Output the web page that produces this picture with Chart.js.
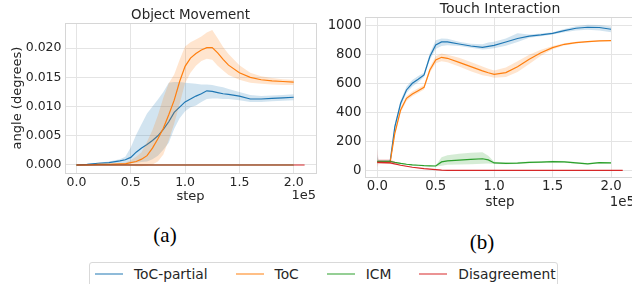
<!DOCTYPE html>
<html>
<head>
<meta charset="utf-8">
<script src="https://cdn.jsdelivr.net/npm/chart.js@4.4.0/dist/chart.umd.min.js"></script>
<style>
  html, body { margin: 0; padding: 0; background: #fff; }
  body { width: 632px; height: 284px; position: relative; overflow: hidden; font-family: "DejaVu Sans", sans-serif; }
  #chartA { position: absolute; left: 0; top: 0; }
  #chartB { position: absolute; left: 320px; top: 0; }
  .caption { position: absolute; font-family: "Liberation Serif", serif; font-size: 21px; color: #000; transform: translate(-50%, -50%); line-height: 1; }
  #legend { position: absolute; left: 89px; top: 262px; width: 469px; height: 40px; border: 1px solid #d9d9d9; border-radius: 3px; box-sizing: border-box; }
  #legend .row { display: flex; align-items: center; height: 16px; margin-top: 3px; padding-left: 5px; white-space: nowrap; }
  #legend .item { display: flex; align-items: center; flex-shrink: 0; margin-right: 28px; font-size: 13.8px; color: #262626; white-space: nowrap; }
  #legend .swatch { width: 28px; height: 2px; margin-right: 11px; flex-shrink: 0; }
</style>
</head>
<body>
<canvas id="chartA" width="320" height="215"></canvas>
<canvas id="chartB" width="320" height="215"></canvas>
<div class="caption" style="left:165px; top:235px;">(a)</div>
<div class="caption" style="left:482px; top:242px;">(b)</div>
<div id="legend"><div class="row" id="legendRow"></div></div>
<script>
// series names + colours (tab10)
const seriesNames = ['ToC-partial', 'ToC', 'ICM', 'Disagreement'];
const seriesColors = ['#1f77b4', '#ff7f0e', '#2ca02c', '#d62728'];
const bandColors = ['rgba(31,119,180,0.2)', 'rgba(255,127,14,0.2)', 'rgba(44,160,44,0.2)', 'rgba(214,39,40,0.2)'];
const legendColors = ['#8fbbd9', '#ffbf86', '#95cf95', '#eb9394'];

// x ticks, in units of 1e5 steps
const stepTicks = [0, 0.5, 1.0, 1.5, 2.0];

// (a) Object Movement
const omTicks = [0, 0.005, 0.010, 0.015, 0.020];
const omSteps = [0, 0.1, 0.2, 0.3, 0.4, 0.45, 0.5, 0.55, 0.6, 0.65, 0.7, 0.75, 0.8, 0.85, 0.9, 0.95, 1.0, 1.05, 1.1, 1.15, 1.2, 1.25, 1.3, 1.35, 1.4, 1.5, 1.6, 1.7, 1.8, 1.9, 2.0];
const omPartial   = [0, 0.0001, 0.0003, 0.0004, 0.0007, 0.0009, 0.0013, 0.0022, 0.0029, 0.0035, 0.0042, 0.0050, 0.0061, 0.0074, 0.0090, 0.0099, 0.0108, 0.0113, 0.0118, 0.0122, 0.0127, 0.0126, 0.0124, 0.0122, 0.0121, 0.0118, 0.0113, 0.0113, 0.0114, 0.0115, 0.0116];
const omPartialLo = [0, 0, 0.0001, 0.0002, 0.0002, 0.0003, 0.0003, 0.0004, 0.0005, 0.0006, 0.0010, 0.0016, 0.0026, 0.0038, 0.0062, 0.0080, 0.0092, 0.0099, 0.0102, 0.0108, 0.0113, 0.0114, 0.0114, 0.0113, 0.0113, 0.0111, 0.0108, 0.0108, 0.0109, 0.0110, 0.0111];
const omPartialHi = [0, 0.0002, 0.0004, 0.0006, 0.0010, 0.0014, 0.0030, 0.0052, 0.0070, 0.0088, 0.0100, 0.0112, 0.0125, 0.0141, 0.0142, 0.0142, 0.0141, 0.0140, 0.0139, 0.0138, 0.0138, 0.0137, 0.0135, 0.0133, 0.0130, 0.0125, 0.0120, 0.0118, 0.0119, 0.0120, 0.0121];
const omToc   = [0, 0, 0.0001, 0.0001, 0.0002, 0.0002, 0.0004, 0.0006, 0.0010, 0.0016, 0.0029, 0.0045, 0.0063, 0.0086, 0.0111, 0.0143, 0.0169, 0.0183, 0.0191, 0.0197, 0.0201, 0.0201, 0.0192, 0.0181, 0.0171, 0.0158, 0.0150, 0.0146, 0.0144, 0.0143, 0.0142];
const omTocLo = [0, 0, 0, 0, 0, 0, -0.0001, -0.0002, -0.0002, -0.0001, 0.0001, 0.0006, 0.0018, 0.0043, 0.0071, 0.0105, 0.0140, 0.0158, 0.0170, 0.0178, 0.0182, 0.0180, 0.0170, 0.0162, 0.0154, 0.0146, 0.0141, 0.0139, 0.0138, 0.0137, 0.0137];
const omTocHi = [0, 0.0001, 0.0002, 0.0002, 0.0003, 0.0004, 0.0008, 0.0014, 0.0022, 0.0040, 0.0060, 0.0085, 0.0115, 0.0140, 0.0155, 0.0180, 0.0203, 0.0210, 0.0215, 0.0220, 0.0227, 0.0231, 0.0217, 0.0202, 0.0190, 0.0171, 0.0158, 0.0152, 0.0149, 0.0147, 0.0146];
const omIcmSteps = [0, 0.5, 1.0, 1.5, 2.0];
const omIcm = [0, 0, 0, 0, 0];
const omDisSteps = [0, 0.5, 1.0, 1.5, 2.1];
const omDis = [0, 0, 0, 0, 0];

// (b) Touch Interaction
const tiTicks = [0, 200, 400, 600, 800, 1000];
const tiSteps = [0, 0.01, 0.11, 0.15, 0.2, 0.25, 0.3, 0.35, 0.4, 0.45, 0.5, 0.55, 0.6, 0.7, 0.8, 0.9, 0.95, 1.0, 1.1, 1.2, 1.3, 1.4, 1.5, 1.6, 1.7, 1.8, 1.9, 2.0];
const tiPartial   = [60, 60, 60, 300, 464, 556, 602, 630, 660, 787, 867, 888, 888, 874, 860, 850, 858, 865, 888, 912, 928, 937, 948, 967, 983, 990, 988, 976];
const tiPartialLo = [40, 50, 50, 280, 440, 535, 580, 610, 645, 765, 840, 860, 865, 860, 848, 836, 840, 845, 862, 888, 918, 928, 940, 956, 968, 972, 968, 955];
const tiPartialHi = [110, 72, 72, 320, 485, 580, 625, 652, 675, 810, 900, 912, 910, 890, 875, 872, 885, 890, 912, 948, 940, 946, 956, 978, 996, 1008, 1006, 995];
const tiToc   = [55, 55, 55, 256, 418, 498, 528, 551, 574, 694, 764, 782, 775, 747, 717, 688, 675, 664, 676, 717, 768, 814, 849, 872, 884, 890, 895, 897];
const tiTocLo = [45, 47, 47, 240, 400, 480, 512, 535, 560, 675, 740, 755, 748, 718, 685, 658, 650, 640, 645, 680, 735, 792, 838, 864, 878, 885, 891, 894];
const tiTocHi = [70, 65, 65, 272, 435, 515, 545, 568, 590, 715, 790, 808, 800, 778, 750, 718, 702, 690, 712, 755, 800, 835, 860, 880, 890, 895, 899, 900];
const tiIcm   = [62, 62, 62, 55, 48, 42, 37, 35, 32, 31, 30, 58, 65, 71, 76, 80, 72, 51, 48, 50, 55, 57, 60, 58, 51, 44, 53, 51];
const tiIcmLo = [40, 55, 55, 50, 44, 38, 34, 32, 29, 28, 27, 32, 38, 40, 42, 45, 48, 43, 42, 44, 49, 51, 54, 52, 46, 40, 48, 46];
const tiIcmHi = [90, 70, 68, 60, 52, 46, 40, 38, 35, 34, 33, 90, 105, 115, 122, 125, 100, 60, 55, 57, 61, 63, 66, 64, 57, 50, 58, 56];
const tiDisSteps = [0, 0.01, 0.11, 0.2, 0.3, 0.4, 0.5, 0.55, 0.6, 1.0, 1.5, 2.0, 2.1];
const tiDis   = [55, 55, 52, 35, 21, 12, 5, 1, 0, 0, 0, 0, 0];
const tiDisLo = [20, 43, 43, 33, 19, 10, 4, 0, 0, 0, 0, 0, 0];
const tiDisHi = [150, 76, 76, 37, 23, 14, 6, 2, 0, 0, 0, 0, 0];

const textColor = '#262626';
const gridColor = '#e4e4e4';

function pts(xs, ys) {
  return xs.map((x, i) => ({x: x, y: ys[i]}));
}

// band (hi filled down to lo) + mean line; k = series index
function series(k, xs, mean, lo, hi) {
  const order = 4 - k;
  const out = [];
  if (lo) {
    out.push({data: pts(xs, hi), borderWidth: 0, pointRadius: 0, fill: '+1', backgroundColor: bandColors[k], order: order});
    out.push({data: pts(xs, lo), borderWidth: 0, pointRadius: 0, fill: false, order: order});
  }
  out.push({data: pts(xs, mean), borderColor: seriesColors[k], borderWidth: 1.2, pointRadius: 0, fill: false, order: order});
  return out;
}

const framePlugin = {
  id: 'frame',
  afterDraw(chart, args, o) {
    const {ctx, chartArea: a} = chart;
    ctx.save();
    ctx.strokeStyle = '#d6d6d6';
    ctx.lineWidth = 1;
    ctx.strokeRect(Math.round(a.left) + 0.5, Math.round(a.top) + 0.5, Math.round(a.right - a.left), Math.round(a.bottom - a.top));
    ctx.fillStyle = textColor;
    ctx.font = o.size + 'px "DejaVu Sans"';
    ctx.textAlign = 'right';
    ctx.textBaseline = 'middle';
    ctx.fillText('1e5', a.right, o.y);
    ctx.restore();
  }
};

function makeChart(id, cfg) {
  return new Chart(document.getElementById(id), {
    type: 'line',
    data: {datasets: cfg.datasets},
    plugins: [framePlugin],
    options: {
      responsive: false,
      animation: false,
      layout: {padding: {left: 0, right: cfg.padRight, top: 0, bottom: 0}},
      plugins: {
        legend: {display: false},
        tooltip: {enabled: false},
        title: {display: true, text: cfg.title, color: textColor, fullSize: false,
          font: {family: 'DejaVu Sans', size: cfg.titleSize, weight: 'normal'},
          padding: {top: cfg.titlePad, bottom: 0}},
        frame: {size: cfg.labelSize, y: cfg.offsetY}
      },
      scales: {
        x: {
          type: 'linear', min: -0.105, max: 2.205,
          afterBuildTicks: s => { s.ticks = stepTicks.map(v => ({value: v})); },
          afterFit: s => { s.height = cfg.xHeight; },
          grid: {color: gridColor, drawTicks: false},
          border: {display: false},
          ticks: {color: textColor, padding: cfg.xTickPad, font: {family: 'DejaVu Sans', size: cfg.tickSize},
            callback: v => v.toFixed(1)},
          title: {display: true, text: 'step', color: textColor, padding: {top: 0, bottom: cfg.xTitlePad},
            font: {family: 'DejaVu Sans', size: cfg.labelSize}}
        },
        y: {
          min: cfg.yMin, max: cfg.yMax,
          afterBuildTicks: s => { s.ticks = cfg.yTicks.map(v => ({value: v})); },
          afterFit: s => { s.width = cfg.yWidth; },
          grid: {color: gridColor, drawTicks: false},
          border: {display: false},
          ticks: {color: textColor, padding: 3.5, font: {family: 'DejaVu Sans', size: cfg.tickSize},
            callback: cfg.yFormat},
          title: {display: !!cfg.yTitle, text: cfg.yTitle, color: textColor, padding: {top: 10, bottom: 0},
            font: {family: 'DejaVu Sans', size: cfg.labelSize}}
        }
      }
    }
  });
}

makeChart('chartA', {
  title: 'Object Movement', titleSize: 13.4, titlePad: 7,
  tickSize: 12.5, labelSize: 13, padRight: 4,
  xHeight: 42, xTickPad: 2, xTitlePad: 11, offsetY: 196,
  yWidth: 65, yMin: -0.00137, yMax: 0.0243, yTicks: omTicks,
  yFormat: v => v.toFixed(3), yTitle: 'angle (degrees)',
  datasets: [].concat(
    series(0, omSteps, omPartial, omPartialLo, omPartialHi),
    series(1, omSteps, omToc, omTocLo, omTocHi),
    series(2, omIcmSteps, omIcm),
    series(3, omDisSteps, omDis)
  )
});

makeChart('chartB', {
  title: 'Touch Interaction', titleSize: 14, titlePad: 0.6,
  tickSize: 13.3, labelSize: 13.4, padRight: 5,
  xHeight: 37.4, xTickPad: 1, xTitlePad: 4, offsetY: 203,
  yWidth: 45, yMin: -50.4, yMax: 1058, yTicks: tiTicks,
  yFormat: v => String(v), yTitle: '',
  datasets: [].concat(
    series(0, tiSteps, tiPartial, tiPartialLo, tiPartialHi),
    series(1, tiSteps, tiToc, tiTocLo, tiTocHi),
    series(2, tiSteps, tiIcm, tiIcmLo, tiIcmHi),
    series(3, tiDisSteps, tiDis, tiDisLo, tiDisHi)
  )
});

// legend
const row = document.getElementById('legendRow');
seriesNames.forEach((name, k) => {
  const item = document.createElement('div');
  item.className = 'item';
  const sw = document.createElement('span');
  sw.className = 'swatch';
  sw.style.background = legendColors[k];
  const label = document.createElement('span');
  label.textContent = name;
  item.appendChild(sw);
  item.appendChild(label);
  row.appendChild(item);
});
</script>
</body>
</html>
